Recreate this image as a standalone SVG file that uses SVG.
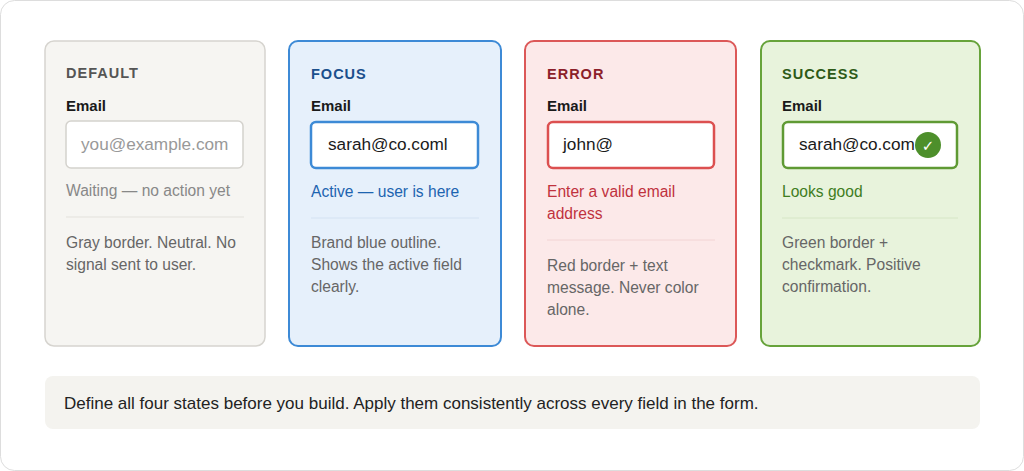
<svg xmlns="http://www.w3.org/2000/svg" width="1024" height="471" viewBox="0 0 1024 471">
<style>
text{font-family:"Liberation Sans",Arial,sans-serif}
.t{font-size:14.5px;font-weight:bold;letter-spacing:1px}
.l{font-size:15px;font-weight:bold;fill:#1a1a1a}
.v{font-size:17.2px;fill:#1a1a1a}
.h{font-size:15.6px}
.d{font-size:15.6px;fill:#666}
</style>
<rect x="0.5" y="0.5" width="1023" height="470" rx="14" fill="#fff" stroke="#ddd"/>
<g id="default">
<rect x="45" y="41" width="220" height="305" rx="9" fill="#f6f5f2" stroke="#d6d4cf" stroke-width="1.5"/>
<text class="t" x="66" y="78" fill="#555">DEFAULT</text>
<text class="l" x="66" y="111">Email</text>
<rect x="66" y="121" width="177" height="47" rx="5" fill="#fff" stroke="#d4d2cd" stroke-width="1.5"/>
<text class="v" x="81" y="150" style="fill:#999">you@example.com</text>
<text class="h" x="66" y="196" fill="#888">Waiting — no action yet</text>
<line x1="66" y1="217" x2="244" y2="217" stroke="#e3e1dc"/>
<text class="d" x="66" y="248">Gray border. Neutral. No</text>
<text class="d" x="66" y="270">signal sent to user.</text>
</g>
<g id="focus">
<rect x="289" y="41" width="212" height="305" rx="9" fill="#e6f0fb" stroke="#3d8ad6" stroke-width="2"/>
<text class="t" x="311" y="79" fill="#1b4f8c">FOCUS</text>
<text class="l" x="311" y="111">Email</text>
<rect x="311" y="122" width="167" height="46" rx="5" fill="#fff" stroke="#3d8ad6" stroke-width="2.5"/>
<text class="v" x="328" y="150">sarah@co.coml</text>
<text class="h" x="311" y="197" fill="#1d64b0">Active — user is here</text>
<line x1="311" y1="218" x2="479" y2="218" stroke="#d4e2f2"/>
<text class="d" x="311" y="248">Brand blue outline.</text>
<text class="d" x="311" y="270">Shows the active field</text>
<text class="d" x="311" y="292">clearly.</text>
</g>
<g id="error">
<rect x="525" y="41" width="211" height="305" rx="9" fill="#fce9e9" stroke="#dc5858" stroke-width="2"/>
<text class="t" x="547" y="79" fill="#8c1f2a">ERROR</text>
<text class="l" x="547" y="111">Email</text>
<rect x="548" y="122" width="166" height="46" rx="5" fill="#fff" stroke="#dc5050" stroke-width="2.5"/>
<text class="v" x="563" y="150">john@</text>
<text class="h" x="547" y="197" fill="#c0323e">Enter a valid email</text>
<text class="h" x="547" y="219" fill="#c0323e">address</text>
<line x1="547" y1="240" x2="715" y2="240" stroke="#f2d4d4"/>
<text class="d" x="547" y="271">Red border + text</text>
<text class="d" x="547" y="293">message. Never color</text>
<text class="d" x="547" y="315">alone.</text>
</g>
<g id="success">
<rect x="761" y="41" width="219" height="305" rx="9" fill="#e8f3dc" stroke="#67a33b" stroke-width="2"/>
<text class="t" x="782" y="79" fill="#2d5a17">SUCCESS</text>
<text class="l" x="782" y="111">Email</text>
<rect x="783" y="122" width="174" height="46" rx="5" fill="#fff" stroke="#5f9a34" stroke-width="2.5"/>
<text class="v" x="799" y="150">sarah@co.com</text>
<circle cx="928" cy="145" r="13" fill="#4d8f2b"/>
<text x="928" y="151" font-size="15" font-weight="bold" fill="#fff" text-anchor="middle" style="font-family:'DejaVu Sans',sans-serif">✓</text>
<text class="h" x="782" y="197" fill="#3f7d1f">Looks good</text>
<line x1="782" y1="218" x2="958" y2="218" stroke="#d6e6c6"/>
<text class="d" x="782" y="248">Green border +</text>
<text class="d" x="782" y="270">checkmark. Positive</text>
<text class="d" x="782" y="292">confirmation.</text>
</g>
<g id="connectors"/>
<g id="note">
<rect x="45" y="376" width="935" height="53" rx="8" fill="#f4f3ef"/>
<text x="64" y="409" font-size="17" fill="#222">Define all four states before you build. Apply them consistently across every field in the form.</text>
</g>
</svg>
